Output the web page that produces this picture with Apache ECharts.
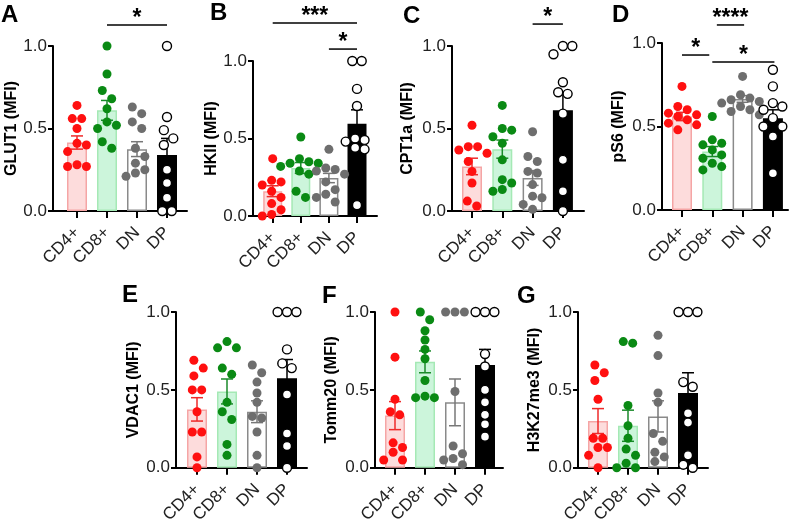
<!DOCTYPE html>
<html><head><meta charset="utf-8">
<script src="https://cdn.jsdelivr.net/npm/echarts@6/dist/echarts.min.js"></script>
<style>html,body{margin:0;padding:0;background:#fff}#c{width:796px;height:526px}</style>
</head><body><div id="c"></div>
<script>
// ---------- DATA ----------
const categories = ['CD4+', 'CD8+', 'DN', 'DP'];
const yTickLabels = ['0.0', '0.5', '1.0'];

// A: GLUT1
const glut1CD4 = [0.64, 0.56, 0.56, 0.50, 0.41, 0.40, 0.36, 0.28, 0.27, 0.27];
const glut1CD8 = [1.0, 0.83, 0.73, 0.68, 0.62, 0.54, 0.52, 0.50, 0.42, 0.38];
const glut1DN  = [0.63, 0.59, 0.54, 0.50, 0.38, 0.33, 0.29, 0.25, 0.23, 0.21];
const glut1DP  = [1.0, 0.57, 0.49, 0.44, 0.40, 0.25, 0.17, 0.08, 0.0, 0.0];
const glut1Mean = [0.415, 0.61, 0.375, 0.34];
const glut1Sem  = [0.04, 0.06, 0.045, 0.10];
const glut1Sig  = [[1, 3, 1.127, '*']];

// B: HKII
const hkiiCD4 = [0.37, 0.23, 0.22, 0.20, 0.16, 0.12, 0.08, 0.04, 0.01, 0.0];
const hkiiCD8 = [0.51, 0.37, 0.35, 0.34, 0.34, 0.32, 0.29, 0.27, 0.16, 0.12];
const hkiiDN  = [0.43, 0.31, 0.30, 0.29, 0.27, 0.22, 0.17, 0.14, 0.12, 0.09];
const hkiiDP  = [1.0, 1.0, 0.82, 0.71, 0.50, 0.49, 0.48, 0.44, 0.43, 0.07];
const hkiiMean = [0.16, 0.31, 0.245, 0.595];
const hkiiSem  = [0.035, 0.035, 0.03, 0.09];
const hkiiSig  = [[0, 3, 1.245, '***'], [2, 3, 1.077, '*']];

// C: CPT1a
const cpt1aCD4 = [0.52, 0.39, 0.39, 0.37, 0.35, 0.30, 0.24, 0.17, 0.06, 0.03];
const cpt1aCD8 = [0.64, 0.50, 0.49, 0.45, 0.41, 0.31, 0.19, 0.17, 0.13, 0.12];
const cpt1aDN  = [0.48, 0.33, 0.30, 0.24, 0.23, 0.16, 0.09, 0.08, 0.04, 0.01];
const cpt1aDP  = [1.0, 1.0, 0.95, 0.78, 0.72, 0.71, 0.59, 0.31, 0.12, 0.0];
const cpt1aMean = [0.27, 0.375, 0.20, 0.61];
const cpt1aSem  = [0.05, 0.055, 0.045, 0.11];
const cpt1aSig  = [[2, 3, 1.133, '*']];

// D: pS6
const ps6CD4 = [0.74, 0.62, 0.60, 0.58, 0.57, 0.56, 0.54, 0.52, 0.51, 0.48];
const ps6CD8 = [0.56, 0.42, 0.40, 0.39, 0.36, 0.33, 0.31, 0.28, 0.26, 0.24];
const ps6DN  = [0.80, 0.69, 0.67, 0.66, 0.65, 0.64, 0.62, 0.60, 0.59, 0.57];
const ps6DP  = [0.84, 0.74, 0.64, 0.62, 0.60, 0.55, 0.50, 0.50, 0.44, 0.22];
const ps6Mean = [0.56, 0.35, 0.665, 0.55];
const ps6Sem  = [0.025, 0.03, 0.02, 0.05];
const ps6Sig  = [[0, 0.9, 0.928, '*'], [1.15, 2.05, 1.108, '****'], [1.0, 3.05, 0.886, '*']];

// E: VDAC1
const vdac1CD4 = [0.69, 0.64, 0.59, 0.50, 0.50, 0.36, 0.23, 0.23, 0.07, 0.0];
const vdac1CD8 = [0.81, 0.77, 0.77, 0.64, 0.60, 0.42, 0.36, 0.31, 0.15, 0.08];
const vdac1DN  = [0.66, 0.61, 0.55, 0.48, 0.42, 0.33, 0.32, 0.23, 0.08, 0.0];
const vdac1DP  = [1.0, 1.0, 1.0, 0.76, 0.67, 0.64, 0.47, 0.22, 0.14, 0.0];
const vdac1Mean = [0.375, 0.49, 0.36, 0.575];
const vdac1Sem  = [0.075, 0.08, 0.07, 0.12];
const vdac1Sig  = [];

// F: Tomm20
const tomm20CD4 = [1.0, 0.71, 0.44, 0.36, 0.34, 0.16, 0.13, 0.10, 0.05, 0.05];
const tomm20CD8 = [1.0, 0.95, 0.88, 0.82, 0.76, 0.70, 0.56, 0.46, 0.45, 0.45];
const tomm20DN  = [1.0, 1.0, 1.0, 0.49, 0.14, 0.09, 0.06, 0.05, 0.02];
const tomm20DP  = [1.0, 1.0, 1.0, 0.73, 0.65, 0.50, 0.42, 0.34, 0.28, 0.20];
const tomm20Mean = [0.335, 0.68, 0.42, 0.66];
const tomm20Sem  = [0.09, 0.07, 0.15, 0.10];
const tomm20Sig  = [];

// G: H3K27me3
const h3k27CD4 = [0.66, 0.61, 0.56, 0.44, 0.19, 0.19, 0.13, 0.13, 0.08, 0.0];
const h3k27CD8 = [0.81, 0.80, 0.40, 0.27, 0.19, 0.12, 0.08, 0.03, 0.0, 0.0];
const h3k27DN  = [0.85, 0.72, 0.48, 0.42, 0.22, 0.17, 0.10, 0.07, 0.04];
const h3k27DP  = [1.0, 1.0, 1.0, 0.55, 0.52, 0.35, 0.29, 0.08, 0.02, 0.0];
const h3k27Mean = [0.30, 0.27, 0.33, 0.48];
const h3k27Sem  = [0.08, 0.10, 0.10, 0.13];
const h3k27Sig  = [];

// ---------- STYLE / LAYOUT ----------
const FONT = '"Liberation Sans", Arial, Helvetica, sans-serif';
const pointColor = ['#ff1010', '#0a8a14', '#6e6e6e', '#ffffff'];
const pointBorder = ['#ff1010', '#0a8a14', '#6e6e6e', '#000000'];
const barFill = ['#fddcdc', '#ccf5db', '#ffffff', '#000000'];
const barBorder = ['#f5a5a5', '#a5e9b5', '#8a8a8a', '#000000'];
const errColor = ['#ee2a2a', '#1a8a2a', '#777777', '#000000'];

const panels = [
  {letter: 'A', name: 'GLUT1 (MFI)', groups: [glut1CD4, glut1CD8, glut1DN, glut1DP], mean: glut1Mean, sem: glut1Sem, sig: glut1Sig,
   box: {left: 53, top: 46, width: 134, height: 165, c0: 24, step: 30, gap: 31, barW: 20}, lp: [1, 7]},
  {letter: 'B', name: 'HKII (MFI)', groups: [hkiiCD4, hkiiCD8, hkiiDN, hkiiDP], mean: hkiiMean, sem: hkiiSem, sig: hkiiSig,
   box: {left: 253, top: 61, width: 124, height: 155, c0: 19.7, step: 28.1, gap: 33, barW: 19}, lp: [210, 5]},
  {letter: 'C', name: 'CPT1a (MFI)', groups: [cpt1aCD4, cpt1aCD8, cpt1aDN, cpt1aDP], mean: cpt1aMean, sem: cpt1aSem, sig: cpt1aSig,
   box: {left: 452, top: 46, width: 132, height: 165, c0: 20, step: 30.3, gap: 36, barW: 20}, lp: [403, 8]},
  {letter: 'D', name: 'pS6 (MFI)', groups: [ps6CD4, ps6CD8, ps6DN, ps6DP], mean: ps6Mean, sem: ps6Sem, sig: ps6Sig,
   box: {left: 662, top: 43, width: 126, height: 167, c0: 20, step: 30.3, gap: 35, barW: 20}, lp: [612, 7]},
  {letter: 'E', name: 'VDAC1 (MFI)', groups: [vdac1CD4, vdac1CD8, vdac1DN, vdac1DP], mean: vdac1Mean, sem: vdac1Sem, sig: vdac1Sig,
   box: {left: 176, top: 312, width: 131, height: 164, c0: 21, step: 30, gap: 34, barW: 20}, lp: [122, 287]},
  {letter: 'F', name: 'Tomm20 (MFI)', groups: [tomm20CD4, tomm20CD8, tomm20DN, tomm20DP], mean: tomm20Mean, sem: tomm20Sem, sig: tomm20Sig,
   box: {left: 375, top: 312, width: 128, height: 163, c0: 20, step: 30, gap: 35, barW: 20}, lp: [322, 288]},
  {letter: 'G', name: 'H3K27me3 (MFI)', groups: [h3k27CD4, h3k27CD8, h3k27DN, h3k27DP], mean: h3k27Mean, sem: h3k27Sem, sig: h3k27Sig,
   box: {left: 578, top: 312, width: 130, height: 164, c0: 20, step: 30, gap: 35, barW: 20}, lp: [517, 288]}
];

// beeswarm layout: horizontal offsets so dots do not overlap
function swarm(vals, pxY, pxX) {
  const D = 8.6, STEP = 9.4;
  const order = vals.map((v, i) => i).sort((a, b) => vals[b] - vals[a]);
  const placed = [];
  for (const i of order) {
    const y = vals[i] * pxY;
    for (let k = 0; k < 30; k++) {
      const off = (k === 0 ? 0 : (k % 2 ? 1 : -1) * Math.ceil(k / 2)) * STEP;
      if (placed.every(p => Math.hypot(p.x - off, p.y - y) >= D)) { placed.push({x: off, y, i}); break; }
    }
  }
  const pos = new Array(vals.length).fill(0);
  let cluster = [placed[0]];
  const flush = () => {
    const m = cluster.reduce((s, p) => s + p.x, 0) / cluster.length;
    cluster.forEach(p => { pos[p.i] = (p.x - m) / pxX; });
  };
  for (let j = 1; j < placed.length; j++) {
    if (placed[j - 1].y - placed[j].y < D) cluster.push(placed[j]);
    else { flush(); cluster = [placed[j]]; }
  }
  flush();
  return pos;
}

const grid = [], xAxis = [], yAxis = [], series = [], graphic = [];
const axisLineStyle = {color: '#000', width: 2};

panels.forEach((p, pi) => {
  const b = p.box;
  grid.push({left: b.left, top: b.top, width: b.width, height: b.height});
  const xmin = -b.c0 / b.step, xmax = (b.width - b.c0) / b.step;
  xAxis.push({
    gridIndex: pi, type: 'value', min: xmin, max: xmax,
    axisLine: {show: true, onZero: false, lineStyle: axisLineStyle},
    axisTick: {show: true, customValues: [0, 1, 2, 3], length: 7, lineStyle: axisLineStyle},
    axisLabel: {customValues: [0, 1, 2, 3], formatter: v => categories[Math.round(v)], rotate: 45,
      fontSize: 17, color: '#222', margin: 19, fontFamily: FONT},
    splitLine: {show: false}
  });
  yAxis.push({
    gridIndex: pi, type: 'value', min: 0, max: 1, interval: 0.5,
    name: p.name, nameLocation: 'middle', nameGap: b.gap,
    nameTextStyle: {fontSize: 16, fontWeight: 'bold', color: '#000', fontFamily: FONT},
    axisLine: {show: true, onZero: false, lineStyle: axisLineStyle},
    axisTick: {show: true, length: 5, lineStyle: axisLineStyle},
    axisLabel: {formatter: v => yTickLabels[Math.round(v * 2)], fontSize: 17, color: '#222', margin: 6, fontFamily: FONT},
    splitLine: {show: false}
  });
  // bars
  series.push({
    type: 'bar', xAxisIndex: pi, yAxisIndex: pi, barWidth: b.barW, z: 2,
    data: p.mean.map((m, k) => ({value: [k, m], itemStyle: {color: barFill[k], borderColor: barBorder[k], borderWidth: 1.5}})),
    silent: true
  });
  // error bars
  series.push({
    type: 'custom', xAxisIndex: pi, yAxisIndex: pi, z: 3, silent: true,
    data: p.mean.map((m, k) => [k, m, p.sem[k]]),
    renderItem: (params, api) => {
      const k = api.value(0), m = api.value(1), s = api.value(2);
      const t = api.coord([k, m + s]), bo = api.coord([k, m - s]);
      const col = errColor[params.dataIndex], hw = 6;
      const st = {stroke: col, lineWidth: 1.5};
      return {type: 'group', children: [
        {type: 'line', shape: {x1: t[0], y1: t[1], x2: bo[0], y2: bo[1]}, style: st},
        {type: 'line', shape: {x1: t[0] - hw, y1: t[1], x2: t[0] + hw, y2: t[1]}, style: st},
        {type: 'line', shape: {x1: bo[0] - hw, y1: bo[1], x2: bo[0] + hw, y2: bo[1]}, style: st}
      ]};
    }
  });
  // points
  p.groups.forEach((vals, k) => {
    const offs = swarm(vals, b.height, b.step);
    series.push({
      type: 'scatter', xAxisIndex: pi, yAxisIndex: pi, z: 4, silent: true,
      symbol: 'circle', symbolSize: 9,
      itemStyle: {color: pointColor[k], borderColor: pointBorder[k], borderWidth: k === 3 ? 1.4 : 0, opacity: 1},
      data: vals.map((v, j) => [k + offs[j], v])
    });
  });
  // significance brackets
  if (p.sig.length) {
    series.push({
      type: 'custom', xAxisIndex: pi, yAxisIndex: pi, z: 5, silent: true, clip: false,
      data: p.sig.map(s => [s[0], s[1], s[2]]),
      renderItem: (params, api) => {
        const a = api.coord([api.value(0), api.value(2)]);
        const c = api.coord([api.value(1), api.value(2)]);
        const lab = p.sig[params.dataIndex][3];
        return {type: 'group', children: [
          {type: 'line', shape: {x1: a[0], y1: a[1], x2: c[0], y2: a[1]}, style: {stroke: '#000', lineWidth: 1.5}},
          {type: 'text', x: (a[0] + c[0]) / 2, y: a[1] - 6,
           style: {text: lab, fontSize: 23, fontWeight: 'bold', fontFamily: FONT, fill: '#000', align: 'center', verticalAlign: 'middle'}}
        ]};
      }
    });
  }
  graphic.push({type: 'text', left: p.lp[0], top: p.lp[1] - 4,
    style: {text: p.letter, fontSize: 24, fontWeight: 'bold', fontFamily: FONT, fill: '#000'}});
});

const chart = echarts.init(document.getElementById('c'), null, {renderer: 'canvas'});
chart.setOption({animation: false, backgroundColor: '#fff', grid, xAxis, yAxis, series, graphic});
</script>
</body></html>
